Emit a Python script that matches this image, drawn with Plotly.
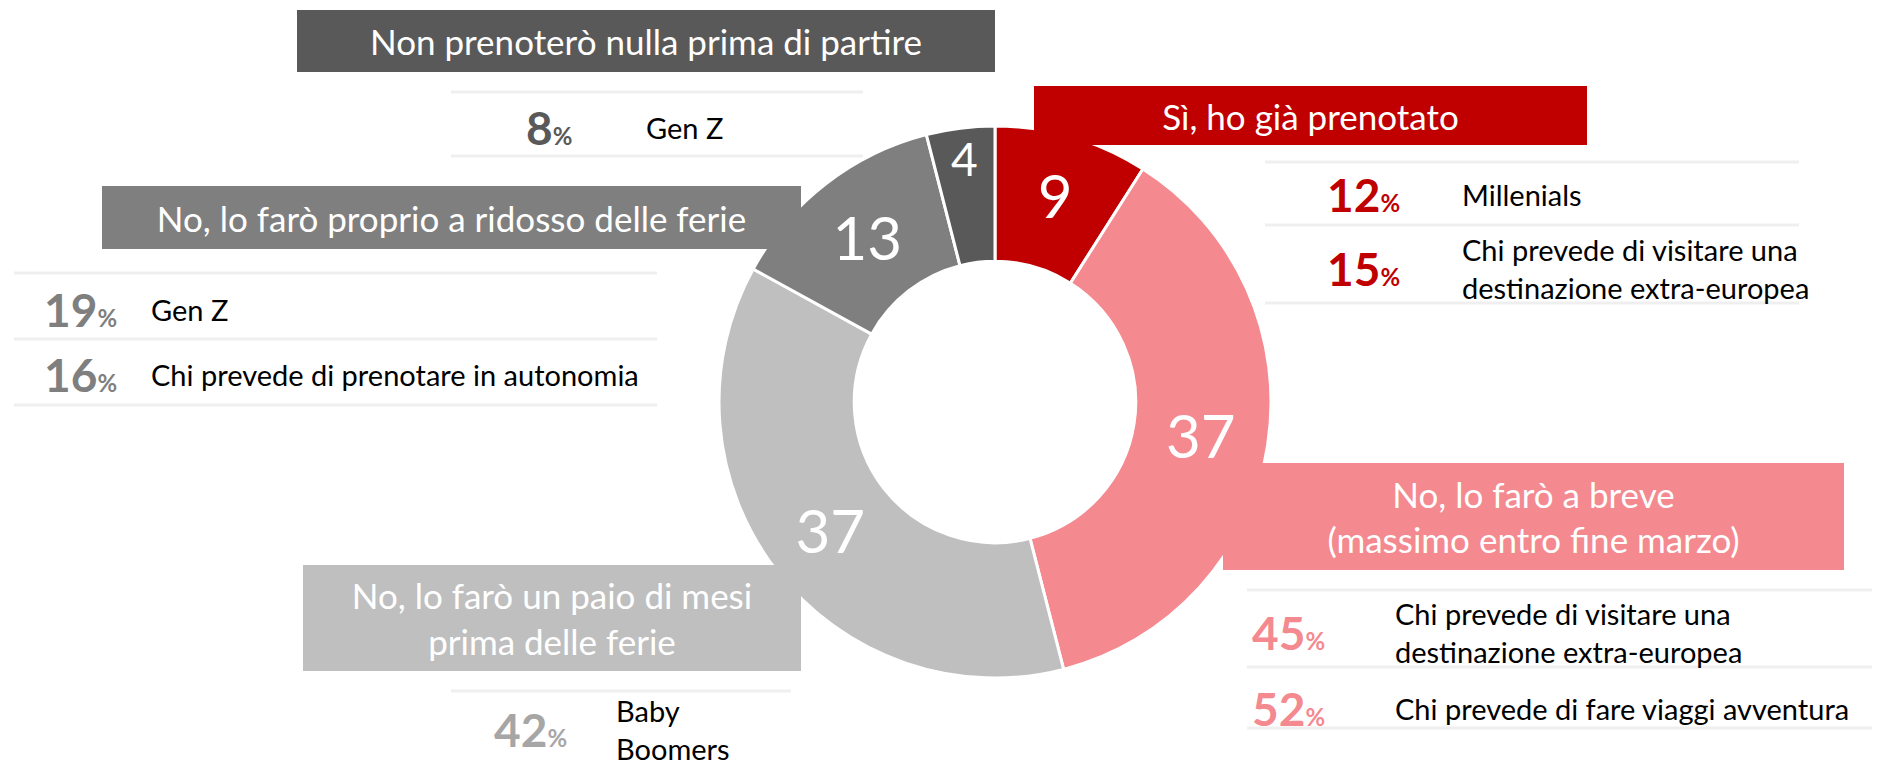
import plotly.graph_objects as go

W, H = 1880, 762
OFF = 8  # page body margin of the exported html

# Donut data (clockwise from 12 o'clock)
labels = [
    "Sì, ho già prenotato",
    "No, lo farò a breve<br>(massimo entro fine marzo)",
    "No, lo farò un paio di mesi<br>prima delle ferie",
    "No, lo farò proprio a ridosso delle ferie",
    "Non prenoterò nulla prima di partire",
]
values = [9, 37, 37, 13, 4]
colors = ["#C00000", "#F4898F", "#BFBFBF", "#7F7F7F", "#595959"]
pct_colors = ["#C00000", "#F4898F", "#A6A6A6", "#7F7F7F", "#595959"]

# Callout rows per answer
details_pct = [[12, 15], [45, 52], [42], [19, 16], [8]]
details_txt = [
    ["Millenials", "Chi prevede di visitare una<br>destinazione extra-europea"],
    ["Chi prevede di visitare una<br>destinazione extra-europea", "Chi prevede di fare viaggi avventura"],
    ["Baby<br>Boomers"],
    ["Gen Z", "Chi prevede di prenotare in autonomia"],
    ["Gen Z"],
]

# callout layout in pixels: box (x0, x1, y0, y1), rule x-range & ys, row ys, pct x, text x
callouts = [
    dict(box=(1034, 1587, 86, 145), lx=(1265, 1799), ly=[162, 225, 303], ry=[195, 268], px_=1325, tx=1460),
    dict(box=(1223, 1844, 463, 570), lx=(1247, 1880), ly=[590, 667, 728], ry=[632, 708], px_=1250, tx=1393),
    dict(box=(303, 801, 565, 671), lx=(451, 791), ly=[691], ry=[729], px_=492, tx=614),
    dict(box=(102, 801, 186, 249), lx=(14, 657), ly=[273, 339, 405], ry=[309, 375], px_=42, tx=149),
    dict(box=(297, 995, 10, 72), lx=(451, 863), ly=[92, 156], ry=[128], px_=524, tx=644),
]

FONT = "Lato, Open Sans, sans-serif"


def px(x):
    return (x - OFF) / W


def py(y):
    return 1 - (y - OFF) / H


# donut placement
cx, cy, r = 995, 402, 276

fig = go.Figure(go.Pie(
    labels=labels,
    values=values,
    sort=False,
    direction="clockwise",
    rotation=0,
    hole=0.51,
    marker=dict(colors=colors, line=dict(color="white", width=3)),
    textinfo="value",
    textposition="inside",
    insidetextorientation="horizontal",
    textfont=dict(family=FONT, size=60, color="white"),
    domain=dict(x=[px(cx - r), px(cx + r)], y=[py(cy + r), py(cy - r)]),
    showlegend=False,
    hoverinfo="label+value",
))

for i, c in enumerate(callouts):
    x0, x1, y0, y1 = c["box"]
    fig.add_annotation(
        x=px((x0 + x1) / 2), y=py((y0 + y1) / 2), xref="paper", yref="paper",
        xanchor="center", yanchor="middle", showarrow=False,
        text=labels[i], width=x1 - x0, height=y1 - y0,
        bgcolor=colors[i], borderpad=0, borderwidth=0,
        font=dict(family=FONT, size=35, color="white"),
    )
    for yl in c["ly"]:
        fig.add_shape(type="line", xref="paper", yref="paper",
                      x0=px(c["lx"][0]), x1=px(c["lx"][1]), y0=py(yl), y1=py(yl),
                      line=dict(color="#EFEFEF", width=3))
    for p, t, yr in zip(details_pct[i], details_txt[i], c["ry"]):
        fig.add_annotation(
            x=px(c["px_"]), y=py(yr), xref="paper", yref="paper",
            xanchor="left", yanchor="middle", showarrow=False,
            text=f"<b>{p}</b><span style='font-size:24px'><b>%</b></span>",
            font=dict(family=FONT, size=46, color=pct_colors[i]),
        )
        fig.add_annotation(
            x=px(c["tx"]), y=py(yr), xref="paper", yref="paper",
            xanchor="left", yanchor="middle", align="left", showarrow=False,
            text=t, font=dict(family=FONT, size=29, color="black"),
        )

fig.update_layout(
    width=W, height=H,
    margin=dict(l=0, r=0, t=0, b=0),
    paper_bgcolor="white", plot_bgcolor="white",
    font=dict(family=FONT),
)
fig.write_html("out.html")
